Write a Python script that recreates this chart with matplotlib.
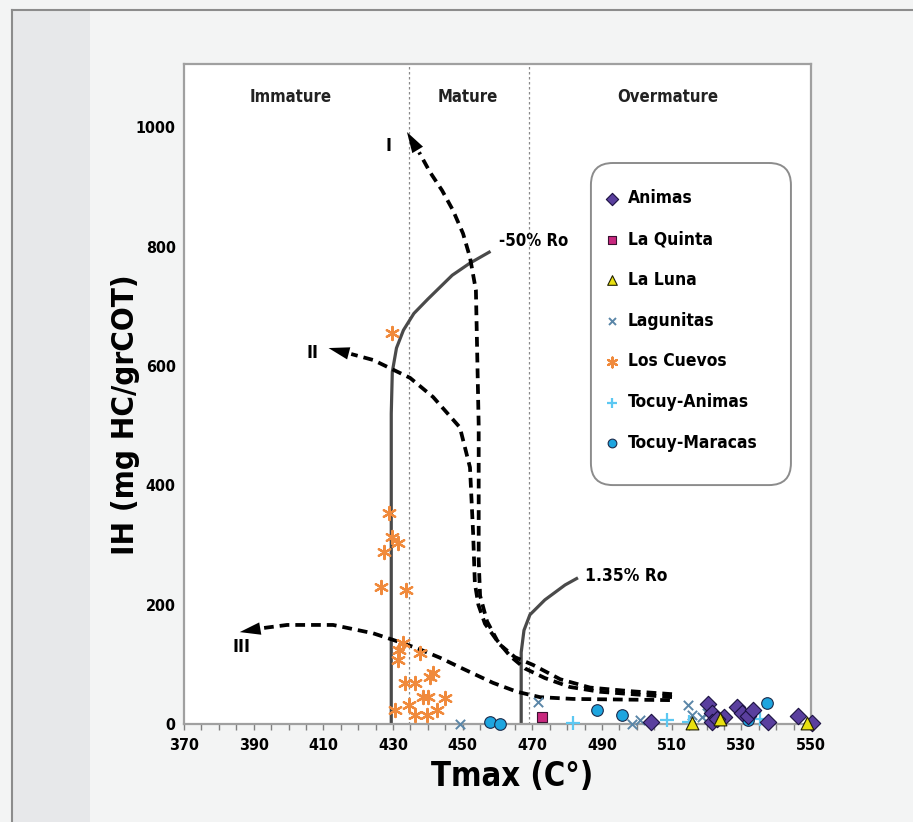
import matplotlib
matplotlib.use("Agg")
import matplotlib.pyplot as plt
from matplotlib.lines import Line2D
from matplotlib.patches import Rectangle, FancyBboxPatch

FONT = ['DejaVu Sans', 'Liberation Sans']
plt.rcParams['font.family'] = FONT
plt.rcParams['font.stretch'] = 'condensed'

# ---------------- data ----------------
animas_x = [504, 520.5, 521.5, 521.5, 525, 528.8, 530.3, 532, 533.4, 537.7, 546.3, 550.3, 523]
animas_y = [3, 33, 18, 4, 12, 28, 19, 14, 24, 4, 13, 2, 8]
quinta_x = [472.8]
quinta_y = [12]
luna_x = [515.8, 523.9, 548.9]
luna_y = [1, 8, 1]
lagun_x = [449.2, 471.6, 498.6, 500.9, 514.7, 515.8, 518.7, 520.0]
lagun_y = [0, 37, 0, 7, 32, 15, 12, 18]
cuevos_x = [429.7, 428.9, 429.7, 431.4, 427.4, 426.6, 433.7, 432.9, 431.7, 431.4, 437.8,
            433.4, 436.3, 440.6, 441.5, 438.6, 440.1, 444.9, 434.6, 436.3, 439.8, 442.6, 430.6]
cuevos_y = [655, 353, 313, 303, 288, 230, 224, 136, 124, 107, 119,
            69, 69, 79, 85, 45, 45, 44, 32, 15, 15, 23, 23]
tanimas_x = [481.7, 508.7, 535.4, 515.0]
tanimas_y = [2, 7, 8, 3]
tmarac_x = [457.9, 460.7, 488.6, 495.8, 531.9, 537.4]
tmarac_y = [3, 0, 23, 15, 7, 35]

# kerogen type evolution paths (dashed)
curveI_x = [510.1, 500.9, 489.4, 480.8, 473.6, 467.9, 463.6, 459.9, 457.0, 455.0, 454.6, 454.6, 453.8, 452.1, 450.1, 447.2, 444.1, 440.6, 437.5]
curveI_y = [45, 49, 54, 62, 77, 93, 114, 140, 172, 215, 275, 500, 727, 782, 822, 861, 894, 925, 958]
curveII_x = [510.1, 498.1, 486.6, 478.0, 470.2, 465.0, 460.7, 456.4, 454.5, 453.5, 453.0, 452.1, 449.2, 441.5, 434.9, 424.3, 418.0]
curveII_y = [50, 55, 61, 75, 99, 112, 133, 168, 200, 236, 320, 430, 497, 548, 580, 610, 620]
curveIII_x = [509.5, 481.7, 472.2, 465.6, 458.7, 449.2, 443.5, 436.9, 430.0, 424.3, 412.8, 399.6, 393.0]
curveIII_y = [40, 42, 45, 54, 69, 95, 111, 127, 141, 152, 166, 166, 161]
arrow_tips = {'I': (434.0, 992), 'II': (411.5, 630), 'III': (386.0, 154)}
arrow_tails = {'I': (437.5, 958), 'II': (418.0, 620), 'III': (393.0, 161)}

# isoreflectance lines (solid)
ro50_x = [429.5, 429.5, 429.8, 431.0, 433.0, 436.0, 440.0, 447.0, 452.0, 458.0]
ro50_y = [0, 520, 590, 630, 660, 688, 712, 752, 772, 792]
ro135_x = [466.8, 466.8, 467.6, 469.3, 473.6, 479.4, 483.1]
ro135_y = [0, 120, 157, 183, 208, 233, 245]

maturity_bounds = [434.5, 469.0]
zone_labels = ['Immature', 'Mature', 'Overmature']
zone_centers = [400.5, 451.5, 509.0]

xticks = list(range(370, 551, 20))
yticks = list(range(0, 1001, 200))

# ---------------- figure ----------------
fig = plt.figure(figsize=(9.13, 8.22), dpi=100)
fig.patch.set_facecolor('#f3f4f4')
fig.patches.append(Rectangle((12/913, 0), 78/913, 1 - 10/822, transform=fig.transFigure,
                             facecolor='#e7e8ea', edgecolor='none', zorder=-5))
fig.lines.append(Line2D([12/913, 1], [1 - 10/822, 1 - 10/822], transform=fig.transFigure,
                        color='#8c8c8c', lw=1.5, zorder=-4))
fig.lines.append(Line2D([12/913, 12/913], [0, 1 - 10/822], transform=fig.transFigure,
                        color='#8c8c8c', lw=1.5, zorder=-4))

ax = fig.add_axes([184/913, 98/822, 627/913, 660/822])
ax.set_facecolor('white')
ax.set_xlim(370, 550)
ax.set_ylim(0, 1106)

for s in ax.spines.values():
    s.set_color('#a0a0a0')
    s.set_linewidth(1.6)

# maturity zone boundaries
for b in maturity_bounds:
    ax.axvline(b, color='#8a8a8a', lw=0.9, ls=(0, (2, 2)), zorder=1)
for lab, cx in zip(zone_labels, zone_centers):
    ax.text(cx, 1050, lab, ha='center', va='center', fontsize=12, fontweight='bold', color='#222222')

# solid Ro lines
ax.plot(ro50_x, ro50_y, color='#4a4a4a', lw=2.3, solid_capstyle='butt', zorder=2)
ax.plot(ro135_x, ro135_y, color='#4a4a4a', lw=2.3, solid_capstyle='butt', zorder=2)
ax.text(460.5, 809, '-50% Ro', fontsize=12, fontweight='bold', va='center', ha='left')
ax.text(485.0, 248, '1.35% Ro', fontsize=12.5, fontweight='bold', va='center', ha='left')

# dashed kerogen curves
for cx, cy in [(curveI_x, curveI_y), (curveII_x, curveII_y), (curveIII_x, curveIII_y)]:
    ax.plot(cx, cy, color='black', lw=2.7, ls=(0, (2.6, 1.6)), zorder=3)
for k in ['I', 'II', 'III']:
    ax.annotate('', xy=arrow_tips[k], xytext=arrow_tails[k],
                arrowprops=dict(arrowstyle='-|>,head_length=1.5,head_width=0.45',
                                color='black', lw=0, shrinkA=0, shrinkB=0), zorder=4)
ax.text(428.6, 968, 'I', fontsize=13, fontweight='bold', ha='center', va='center')
ax.text(407.0, 621, 'II', fontsize=13, fontweight='bold', ha='center', va='center')
ax.text(386.5, 129, 'III', fontsize=13, fontweight='bold', ha='center', va='center')

# scatter series
kw = dict(clip_on=False, zorder=5)
ax.scatter(cuevos_x, cuevos_y, marker=(6, 2, 0), s=90, color='#f08a3c', linewidths=1.6, label='Los Cuevos', **kw)
ax.scatter(lagun_x, lagun_y, marker='x', s=45, color='#5a86a8', linewidths=1.4, label='Lagunitas', **kw)
ax.scatter(tanimas_x, tanimas_y, marker='+', s=110, color='#5cc8f2', linewidths=1.6, label='Tocuy-Animas', **kw)
ax.scatter(tmarac_x, tmarac_y, marker='o', s=70, facecolor='#1ea5df', edgecolor='#1b2a4a', linewidths=0.8, label='Tocuy-Maracas', **kw)
ax.scatter(quinta_x, quinta_y, marker='s', s=60, facecolor='#c8287e', edgecolor='#3a1030', linewidths=0.8, label='La Quinta', **kw)
ax.scatter(animas_x, animas_y, marker='D', s=70, facecolor='#5a3f9e', edgecolor='#1a1040', linewidths=0.8, label='Animas', **kw)
ax.scatter(luna_x, luna_y, marker='^', s=85, facecolor='#e8e010', edgecolor='#202000', linewidths=0.8, label='La Luna', **kw)

# legend frame (rounded box) drawn separately
box = FancyBboxPatch((0.649, 0.362), 0.319, 0.488, transform=ax.transAxes,
                     boxstyle='round,pad=0,rounding_size=0.035', facecolor='white',
                     edgecolor='#8c8c8c', linewidth=1.4, zorder=6, mutation_aspect=627/660)
ax.add_patch(box)

order = ['Animas', 'La Quinta', 'La Luna', 'Lagunitas', 'Los Cuevos', 'Tocuy-Animas', 'Tocuy-Maracas']
h, l = ax.get_legend_handles_labels()
hm = dict(zip(l, h))
leg = ax.legend([hm[o] for o in order], order, loc='upper left', bbox_to_anchor=(0.67, 0.81),
                frameon=False, prop=dict(family=FONT, weight='bold', size=12.5),
                labelspacing=1.31, handletextpad=0.45, handlelength=0.9, borderpad=0,
                markerscale=0.75, borderaxespad=0)
leg.set_zorder(7)

# ticks
ax.set_xticks(xticks)
ax.set_xticks(list(range(370, 551, 5)), minor=True)
ax.set_yticks(yticks)
ax.tick_params(axis='x', which='both', direction='out', length=4, width=1, color='#808080', pad=6)
ax.tick_params(axis='y', length=0, pad=6)
for t in ax.get_xticklabels() + ax.get_yticklabels():
    t.set_fontweight('bold')
    t.set_fontsize(11.5)

ax.set_xlabel('Tmax (C°)', fontsize=23.5, fontweight='bold')
ax.xaxis.set_label_coords(0.523, -0.079)
ax.xaxis.label.set_va('center')
ax.set_ylabel('IH (mg HC/grCOT)', fontsize=22.5, fontweight='bold')
ax.yaxis.set_label_coords(-0.094, 0.468)
ax.yaxis.label.set_va('center')

fig.savefig('out.png', dpi=100, facecolor=fig.get_facecolor())
